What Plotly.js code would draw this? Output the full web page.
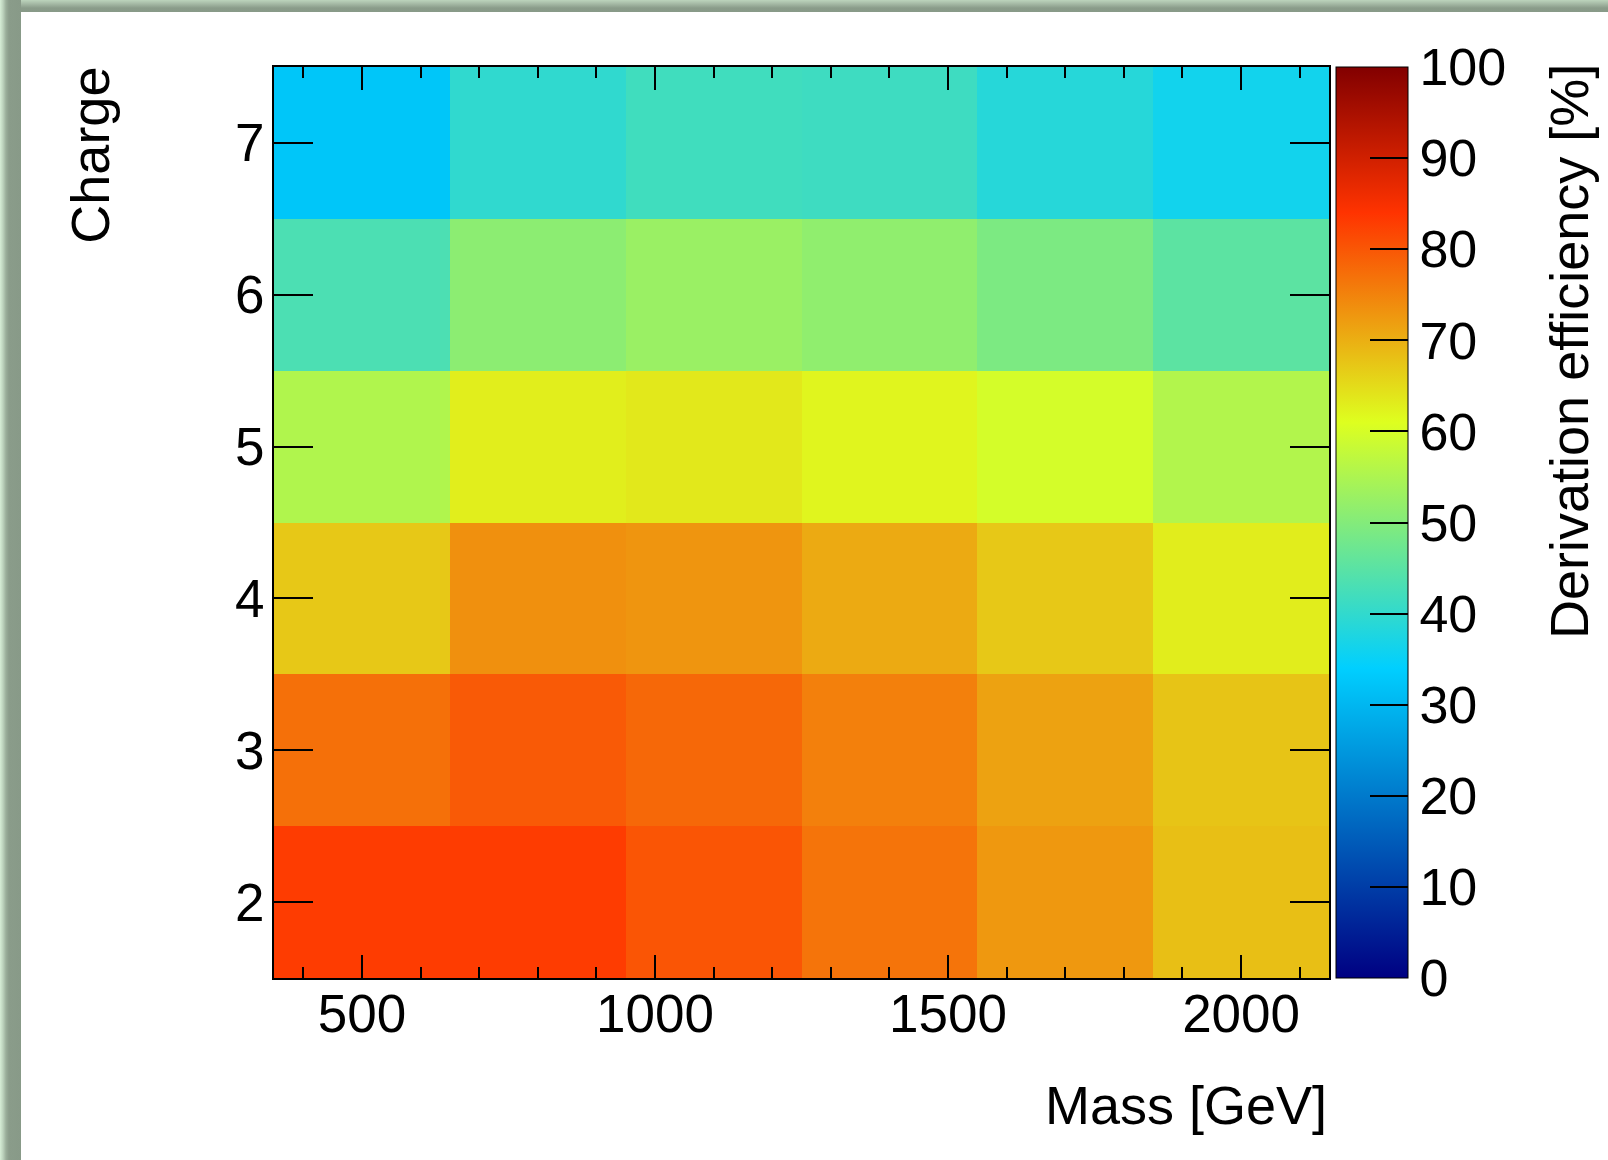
<!DOCTYPE html>
<html>
<head>
<meta charset="utf-8">
<script src="https://cdn.plot.ly/plotly-3.0.1.min.js"></script>
<style>
  html, body { margin: 0; padding: 0; background: #ffffff; }
  #wrap { position: relative; width: 1608px; height: 1160px; overflow: hidden; }
  #chart { position: absolute; left: 0; top: 0; width: 1608px; height: 1160px; }
  .frame-top { position: absolute; left: 0; top: 0; width: 1608px; height: 12px;
    background: linear-gradient(to bottom, #bcd4bc 0px, #a4b8a4 4px, #8a9c8a 8px, #889a88 12px); z-index: 5; }
  .frame-left { position: absolute; left: 0; top: 0; width: 21px; height: 1160px;
    background: linear-gradient(to right, #d6eed6 0px, #bcd2bc 3px, #9aae9a 6px, #8a9c8a 9px, #889a88 21px); z-index: 6; }
</style>
</head>
<body>
<div id="wrap">
  <div id="chart"></div>
  <div class="frame-top"></div>
  <div class="frame-left"></div>
</div>
<script>
// Bin centres: mass in GeV (300 GeV wide bins), charge in units of e
const massBins = [500, 800, 1100, 1400, 1700, 2000];
const chargeBins = [2, 3, 4, 5, 6, 7];

// Derivation efficiency [%] per charge row, ordered by mass bin
const effCharge2 = [83.0, 83.0, 80.2, 76.7, 72.6, 68.2];
const effCharge3 = [77.1, 79.6, 78.0, 75.3, 71.5, 67.6];
const effCharge4 = [67.2, 73.5, 73.0, 70.6, 67.2, 63.0];
const effCharge5 = [55.4, 62.9, 63.6, 62.1, 59.8, 55.6];
const effCharge6 = [43.2, 51.0, 52.7, 51.5, 49.1, 45.2];
const effCharge7 = [32.5, 39.8, 41.8, 41.5, 38.6, 36.2];

const colorTicks = [0, 10, 20, 30, 40, 50, 60, 70, 80, 90, 100];

// Rainbow palette: navy -> cyan -> yellow-green -> red -> dark red
const palette = [
  [0.00, 'rgb(0,0,130)'],
  [0.34, 'rgb(0,207,255)'],
  [0.61, 'rgb(222,255,31)'],
  [0.84, 'rgb(255,51,0)'],
  [1.00, 'rgb(130,0,0)']
];

const FONT = 'Liberation Sans, Arial, Helvetica, sans-serif';
const TICK_FS = 53;
const TITLE_FS = 54;

const trace = {
  type: 'heatmap',
  x: massBins,
  y: chargeBins,
  z: [effCharge2, effCharge3, effCharge4, effCharge5, effCharge6, effCharge7],
  zmin: 0,
  zmax: 100,
  colorscale: palette,
  xgap: 0,
  ygap: 0,
  hoverinfo: 'skip',
  colorbar: {
    x: 1.0066,
    xanchor: 'left',
    xpad: 0,
    y: 0.5,
    yanchor: 'middle',
    ypad: 0,
    len: 1,
    lenmode: 'fraction',
    thickness: 72,
    thicknessmode: 'pixels',
    outlinecolor: '#000000',
    outlinewidth: 1,
    tickmode: 'array',
    tickvals: colorTicks,
    ticktext: colorTicks.map(String),
    ticks: 'inside',
    ticklen: 38,
    tickwidth: 2,
    tickcolor: '#000000',
    tickfont: { family: FONT, size: 52, color: '#000000' },
    ticklabelstandoff: 0
  }
};

const layout = {
  width: 1608,
  height: 1160,
  margin: { l: 274, r: 279, t: 67, b: 182, pad: 0 },
  paper_bgcolor: '#ffffff',
  plot_bgcolor: '#ffffff',
  font: { family: FONT, size: TICK_FS, color: '#000000' },
  showlegend: false,
  xaxis: {
    range: [350, 2150],
    tickmode: 'linear',
    tick0: 500,
    dtick: 500,
    ticks: 'inside',
    ticklen: 23,
    tickwidth: 2,
    tickcolor: '#000000',
    minor: { tick0: 0, dtick: 100, ticks: 'inside', ticklen: 11, tickwidth: 2, tickcolor: '#000000' },
    showline: true,
    linecolor: '#000000',
    linewidth: 2,
    mirror: 'allticks',
    showgrid: false,
    zeroline: false,
    tickfont: { family: FONT, size: TICK_FS, color: '#000000' },
    ticklabelstandoff: -12
  },
  yaxis: {
    range: [1.5, 7.5],
    tickmode: 'linear',
    tick0: 2,
    dtick: 1,
    ticks: 'inside',
    ticklen: 39,
    tickwidth: 2,
    tickcolor: '#000000',
    showline: true,
    linecolor: '#000000',
    linewidth: 2,
    mirror: 'allticks',
    showgrid: false,
    zeroline: false,
    tickfont: { family: FONT, size: TICK_FS, color: '#000000' },
    ticklabelstandoff: -3
  },
  annotations: [
    {
      text: 'Charge',
      xref: 'paper', yref: 'paper',
      x: -0.1745, y: 1.003,
      xanchor: 'center', yanchor: 'top',
      textangle: -90,
      showarrow: false,
      font: { family: FONT, size: TITLE_FS, color: '#000000' }
    },
    {
      text: 'Mass [GeV]',
      xref: 'paper', yref: 'paper',
      x: 1, y: -0.1394,
      xanchor: 'right', yanchor: 'middle',
      showarrow: false,
      font: { family: FONT, size: TITLE_FS, color: '#000000' }
    },
    {
      text: 'Derivation efficiency [%]',
      xref: 'paper', yref: 'paper',
      x: 1.2275, y: 1.005,
      xanchor: 'center', yanchor: 'top',
      textangle: -90,
      showarrow: false,
      font: { family: FONT, size: TITLE_FS, color: '#000000' }
    }
  ]
};

Plotly.newPlot('chart', [trace], layout, { displayModeBar: false, staticPlot: true });
</script>
</body>
</html>
